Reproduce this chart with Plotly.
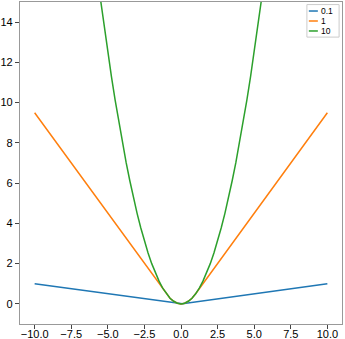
import plotly.graph_objects as go

# series
x_01 = [-10.0, -0.1, 0.0, 0.1, 10.0]
y_01 = [0.995, 0.005, 0.0, 0.005, 0.995]

x_1 = [-10.0, -1.0, -0.75, -0.5, -0.25, 0.0, 0.25, 0.5, 0.75, 1.0, 10.0]
y_1 = [9.5, 0.5, 0.28, 0.13, 0.03, 0.0, 0.03, 0.13, 0.28, 0.5, 9.5]

x_10 = [-5.5, -5.25, -5.0, -4.75, -4.5, -4.25, -4.0, -3.75, -3.5, -3.25, -3.0,
        -2.75, -2.5, -2.25, -2.0, -1.75, -1.5, -1.25, -1.0, -0.75, -0.5, -0.25,
        0.0, 0.25, 0.5, 0.75, 1.0, 1.25, 1.5, 1.75, 2.0, 2.25, 2.5, 2.75, 3.0,
        3.25, 3.5, 3.75, 4.0, 4.25, 4.5, 4.75, 5.0, 5.25, 5.5]
y_10 = [15.13, 13.78, 12.5, 11.28, 10.13, 9.03, 8.0, 7.03, 6.13, 5.28, 4.5,
        3.78, 3.13, 2.53, 2.0, 1.53, 1.13, 0.78, 0.5, 0.28, 0.13, 0.03,
        0.0, 0.03, 0.13, 0.28, 0.5, 0.78, 1.13, 1.53, 2.0, 2.53, 3.13, 3.78, 4.5,
        5.28, 6.13, 7.03, 8.0, 9.03, 10.13, 11.28, 12.5, 13.78, 15.13]

names = ["0.1", "1", "10"]
colors = ["#1f77b4", "#ff7f0e", "#2ca02c"]

x_ticks = [-10.0, -7.5, -5.0, -2.5, 0.0, 2.5, 5.0, 7.5, 10.0]
y_ticks = [0, 2, 4, 6, 8, 10, 12, 14]

FONT = "Liberation Sans, Arial, sans-serif"

fig = go.Figure()
for xs, ys, n, c in zip([x_01, x_1, x_10], [y_01, y_1, y_10], names, colors):
    fig.add_trace(go.Scatter(x=xs, y=ys, mode="lines", name=n,
                             line=dict(color=c, width=1.5), showlegend=False))

axis_common = dict(showgrid=False, zeroline=False, showline=True, mirror=True,
                   linecolor="#999999", linewidth=1.2, ticks="outside",
                   ticklen=4, tickcolor="#444444", automargin=False,
                   tickfont=dict(family=FONT, size=11, color="black"))

# legend drawn in the top-right corner (paper coordinates)
legend_box = dict(x0=0.891, x1=0.991, y0=0.891, y1=0.992)
legend_rows_y = [0.972, 0.941, 0.910]
shapes = [dict(type="rect", xref="paper", yref="paper", **legend_box,
               line=dict(color="#cccccc", width=1), fillcolor="white", layer="above")]
annotations = []
for n, c, yy in zip(names, colors, legend_rows_y):
    shapes.append(dict(type="line", xref="paper", yref="paper", x0=0.897, x1=0.925,
                       y0=yy, y1=yy, line=dict(color=c, width=1.5), layer="above"))
    annotations.append(dict(xref="paper", yref="paper", x=0.931, y=yy, text=n,
                            showarrow=False, xanchor="left", yanchor="middle",
                            borderpad=0,
                            font=dict(family=FONT, size=8.5, color="black")))

fig.update_layout(
    width=345, height=339,
    margin=dict(l=20, r=3, t=2, b=15),
    paper_bgcolor="white", plot_bgcolor="white",
    xaxis=dict(range=[-11, 11], tickvals=x_ticks, tickformat=".1f",
               ticklabelstandoff=-4, **axis_common),
    yaxis=dict(range=[-1, 15], tickvals=y_ticks, **axis_common),
    shapes=shapes, annotations=annotations,
    showlegend=False,
)

fig.write_html("out.html", config={"displayModeBar": False},
               post_script="document.body.style.margin='0';document.body.style.padding='0';document.body.style.overflow='hidden';")
